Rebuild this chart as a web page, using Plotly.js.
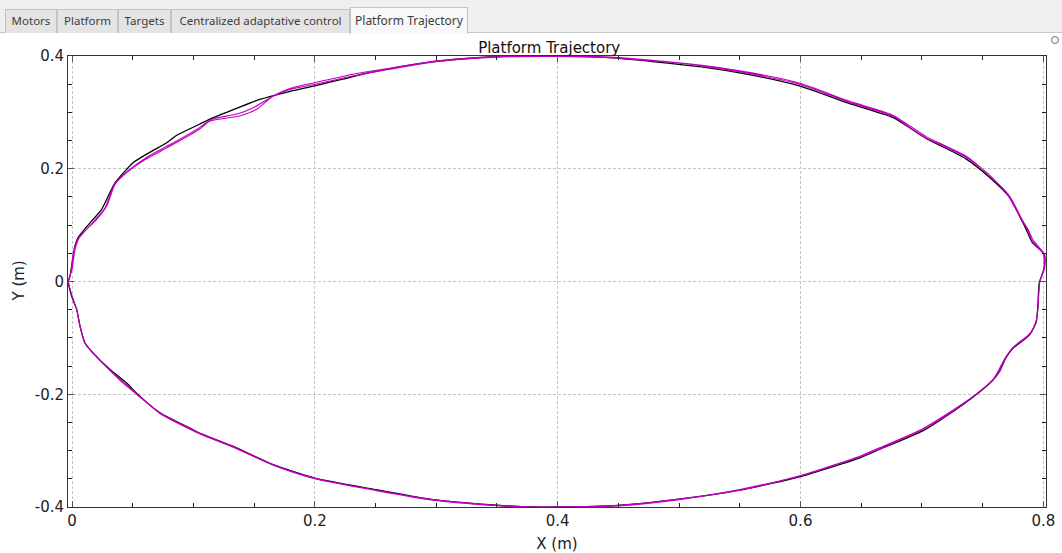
<!DOCTYPE html>
<html>
<head>
<meta charset="utf-8">
<script src="https://cdn.plot.ly/plotly-3.0.1.min.js"></script>
<style>
  html, body { margin:0; padding:0; background:#ffffff; }
  #wrap { position:relative; width:1062px; height:553px; overflow:hidden; }
  #chart { position:absolute; left:0; top:0; width:1062px; height:553px; }
  #tabbar { position:absolute; left:0; top:0; width:1062px; height:33px; background:#efefef; border-bottom:1px solid #c8c8c8; box-sizing:border-box; }
  .tab { position:absolute; top:9px; height:24px; box-sizing:border-box; background:#e4e4e4; border:1px solid #c4c4c4; border-bottom:none;
         font-family:"Noto Sans", "Open Sans", sans-serif; font-size:11.5px; color:#3c3c3c; line-height:22px; text-align:center; }
  .tab.active { background:#f8f8f8; top:7px; height:27px; line-height:26px; font-size:12px; }
  #dot { position:absolute; left:1051px; top:36px; width:8px; height:8px; border:1px solid #666; border-radius:50%; box-sizing:border-box; background:#fff; }
</style>
</head>
<body>
<div id="wrap">
  <div id="chart"></div>
  <div id="tabbar"></div>
  <div id="dot"></div>
</div>
<script>
// ---- UI tab labels ----
const tabLabels = ["Motors", "Platform", "Targets", "Centralized adaptative control", "Platform Trajectory"];

// ---- chart text ----
const chartTitle = "Platform Trajectory";
const xTitle = "X (m)";
const yTitle = "Y (m)";

// ---- tick values and labels ----
const xTickVals = [0, 0.2, 0.4, 0.6, 0.8];
const xTickText = ["0", "0.2", "0.4", "0.6", "0.8"];
const yTickVals = [-0.4, -0.2, 0, 0.2, 0.4];
const yTickText = ["-0.4", "-0.2", "0", "0.2", "0.4"];

// ---- trajectory samples [x, y] (m) ----
const blackPts = [
  [-0.003, 0.0], [-0.0016, 0.010], [0.0025, 0.063], [0.005, 0.078], [0.0148, 0.104], [0.0244, 0.128],
  [0.0354, 0.175], [0.045, 0.199], [0.0505, 0.211], [0.064, 0.229], [0.078, 0.246], [0.086, 0.259],
  [0.105, 0.279], [0.1136, 0.288], [0.1355, 0.307], [0.1547, 0.323], [0.179, 0.337], [0.200, 0.347],
  [0.223, 0.359], [0.251, 0.373], [0.297, 0.390], [0.350, 0.399], [0.400, 0.400], [0.443, 0.397],
  [0.517, 0.381], [0.560, 0.366], [0.599, 0.347], [0.640, 0.316], [0.676, 0.291], [0.7035, 0.254],
  [0.736, 0.218], [0.7556, 0.185], [0.772, 0.150], [0.783, 0.105], [0.786, 0.092], [0.791, 0.069],
  [0.8008, 0.048], [0.8008, 0.024], [0.7967, -0.002], [0.7953, -0.050], [0.794, -0.073], [0.7885, -0.095],
  [0.7747, -0.119], [0.769, -0.136], [0.7638, -0.160], [0.758, -0.176], [0.7446, -0.2007], [0.7199, -0.239],
  [0.7007, -0.265], [0.665, -0.298], [0.650, -0.312], [0.600, -0.346], [0.550, -0.370], [0.500, -0.386],
  [0.450, -0.397], [0.400, -0.400], [0.380, -0.400], [0.344, -0.396], [0.2974, -0.387], [0.2508, -0.3694],
  [0.200, -0.3487], [0.1657, -0.325], [0.1328, -0.2925], [0.105, -0.269], [0.0998, -0.263], [0.0724, -0.233],
  [0.0532, -0.198], [0.045, -0.180], [0.0313, -0.156], [0.0175, -0.127], [0.0107, -0.109], [0.0066, -0.079],
  [0.0039, -0.050], [-0.0003, -0.026], [-0.003, 0.0]
];

const magentaPts1 = [
  [-0.003, 0.0], [0.0, 0.021], [0.0025, 0.057], [0.0066, 0.080], [0.0203, 0.110], [0.0286, 0.134],
  [0.0354, 0.172], [0.045, 0.193], [0.060, 0.216], [0.078, 0.237], [0.105, 0.270], [0.1136, 0.2847],
  [0.138, 0.2936], [0.152, 0.3055], [0.1657, 0.329], [0.182, 0.344], [0.2005, 0.353], [0.2315, 0.3677],
  [0.255, 0.376], [0.300, 0.391], [0.350, 0.399], [0.400, 0.400], [0.443, 0.398], [0.480, 0.392],
  [0.517, 0.384], [0.560, 0.370], [0.599, 0.352], [0.640, 0.320], [0.676, 0.295], [0.7035, 0.257],
  [0.720, 0.240], [0.736, 0.223], [0.7556, 0.188], [0.772, 0.152], [0.783, 0.108], [0.787, 0.094],
  [0.792, 0.072], [0.801, 0.048], [0.801, 0.024], [0.797, -0.002], [0.7955, -0.050], [0.794, -0.070],
  [0.789, -0.092], [0.776, -0.115], [0.769, -0.134], [0.763, -0.158], [0.758, -0.175], [0.7446, -0.200],
  [0.720, -0.236], [0.700, -0.262], [0.665, -0.295], [0.650, -0.309], [0.600, -0.344], [0.550, -0.369],
  [0.500, -0.387], [0.450, -0.398], [0.400, -0.401], [0.380, -0.401], [0.344, -0.397], [0.2974, -0.388],
  [0.2508, -0.371], [0.200, -0.350], [0.1657, -0.326], [0.1328, -0.294], [0.105, -0.270], [0.0724, -0.234],
  [0.0532, -0.200], [0.040, -0.176], [0.0313, -0.158], [0.0175, -0.128], [0.0107, -0.110], [0.0066, -0.080],
  [0.0039, -0.050], [0.0, -0.025], [-0.003, 0.0]
];

const magentaPts2 = [
  [-0.003, 0.0], [-0.001, 0.015], [0.001, 0.050], [0.004, 0.072], [0.016, 0.102], [0.027, 0.130],
  [0.0354, 0.174], [0.046, 0.196], [0.062, 0.221], [0.080, 0.242], [0.105, 0.273], [0.115, 0.288],
  [0.136, 0.297], [0.150, 0.309], [0.164, 0.327], [0.180, 0.341], [0.2005, 0.350], [0.230, 0.364],
  [0.255, 0.374], [0.300, 0.390], [0.350, 0.398], [0.400, 0.399], [0.443, 0.397], [0.480, 0.391],
  [0.517, 0.383], [0.560, 0.368], [0.599, 0.350], [0.640, 0.318], [0.676, 0.293], [0.700, 0.258],
  [0.720, 0.238], [0.736, 0.221], [0.755, 0.190], [0.770, 0.156], [0.782, 0.110], [0.786, 0.096],
  [0.791, 0.071], [0.800, 0.049], [0.8005, 0.024], [0.797, -0.002], [0.7955, -0.050], [0.794, -0.071],
  [0.789, -0.094], [0.775, -0.117], [0.769, -0.135], [0.7635, -0.160], [0.758, -0.176], [0.7446, -0.200],
  [0.720, -0.238], [0.700, -0.263], [0.665, -0.297], [0.650, -0.310], [0.600, -0.345], [0.550, -0.370],
  [0.500, -0.386], [0.450, -0.397], [0.400, -0.400], [0.380, -0.400], [0.344, -0.396], [0.297, -0.387],
  [0.250, -0.370], [0.200, -0.349], [0.1657, -0.325], [0.133, -0.293], [0.105, -0.269], [0.0724, -0.233],
  [0.053, -0.199], [0.042, -0.178], [0.031, -0.157], [0.0175, -0.127], [0.0107, -0.109], [0.0066, -0.079],
  [0.0039, -0.050], [0.0, -0.025], [-0.003, 0.0]
];

// ---- tabs (HTML chrome) ----
const tabGeom = [[5, 52], [57, 61], [118, 53], [171, 179], [350, 118]];
const bar = document.getElementById('tabbar');
tabLabels.forEach((t, i) => {
  const d = document.createElement('div');
  d.className = 'tab' + (i === tabLabels.length - 1 ? ' active' : '');
  d.style.left = tabGeom[i][0] + 'px';
  d.style.width = tabGeom[i][1] + 'px';
  d.textContent = t;
  bar.appendChild(d);
});

// ---- plot ----
const loop = (pts) => ({ x: pts.map(p => p[0]), y: pts.map(p => p[1]) });
const mAll = magentaPts1.concat(magentaPts2.slice(1));

const traces = [
  Object.assign({ type: 'scatter', mode: 'lines', name: 'measured',
    line: { color: '#000000', width: 1.3, shape: 'spline', smoothing: 0.6 }, hoverinfo: 'skip' }, loop(blackPts)),
  Object.assign({ type: 'scatter', mode: 'lines', name: 'reference',
    line: { color: '#c000c0', width: 1.1, shape: 'spline', smoothing: 0.6 }, hoverinfo: 'skip' }, loop(mAll))
];

const axisFont = { family: 'DejaVu Sans, sans-serif', size: 15, color: '#222222' };
const commonAxis = {
  showline: true, linecolor: '#333333', linewidth: 1, mirror: 'ticks',
  ticks: 'inside', ticklen: 6, tickcolor: '#555555', tickwidth: 1,
  showgrid: true, gridcolor: '#c4c4c4', griddash: '3px,2px', gridwidth: 1,
  zeroline: false, tickfont: axisFont, tickmode: 'array',
  minor: { tickmode: 'linear', ticks: 'inside', ticklen: 4, tickcolor: '#222222', tickwidth: 1, dtick: 0.05, tick0: 0, showgrid: false }
};

const layout = {
  width: 1062, height: 553,
  margin: { l: 68, r: 16, t: 56, b: 46 },
  paper_bgcolor: '#ffffff', plot_bgcolor: '#ffffff',
  showlegend: false,
  title: { text: chartTitle, x: 0.492, xref: 'paper', xanchor: 'center', y: 1, yref: 'paper', yanchor: 'bottom', pad: { b: 3 },
           font: { family: 'DejaVu Sans, sans-serif', size: 15, color: '#111111' } },
  xaxis: Object.assign({}, commonAxis, {
    range: [-0.0033, 0.8022], tickvals: xTickVals, ticktext: xTickText,
    title: { text: xTitle, standoff: 9, font: axisFont }
  }),
  yaxis: Object.assign({}, commonAxis, {
    range: [-0.4, 0.4], tickvals: yTickVals, ticktext: yTickText
  }),
  annotations: [{
    text: yTitle, textangle: -90, showarrow: false, font: axisFont,
    xref: 'paper', yref: 'paper', x: -0.0511, y: 0.5, xanchor: 'center', yanchor: 'middle'
  }]
};

Plotly.newPlot('chart', traces, layout, { staticPlot: true, displayModeBar: false });
</script>
</body>
</html>
